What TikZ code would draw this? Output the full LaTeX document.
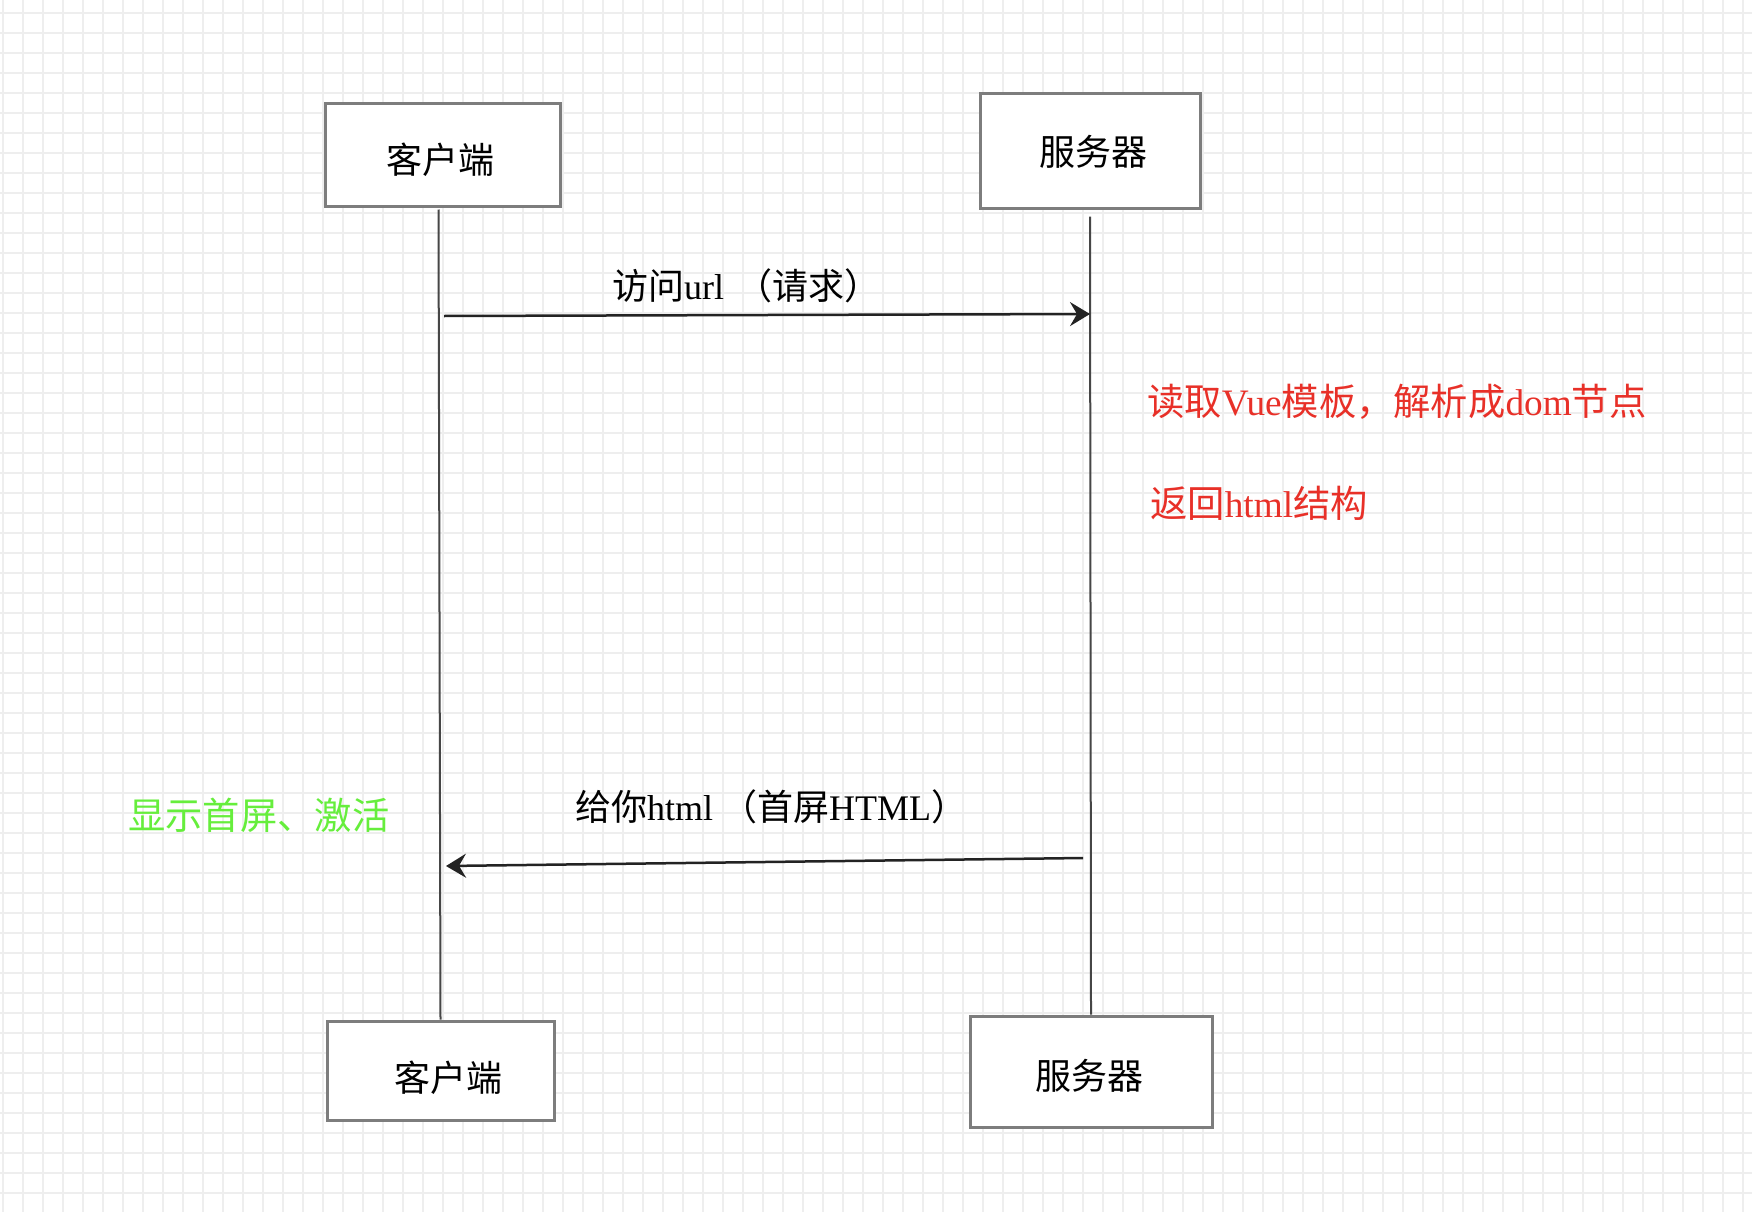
\documentclass[tikz,border=0pt]{standalone}
\usepackage{fontspec}
\setmainfont{Liberation Serif}
\newfontfamily\cjk{Noto Sans CJK SC}
\usetikzlibrary{arrows.meta}
\definecolor{gridc}{RGB}{238,238,238}
\definecolor{boxc}{RGB}{125,125,125}
\definecolor{lifec}{RGB}{70,70,70}
\definecolor{arrc}{RGB}{35,35,35}
\definecolor{redt}{RGB}{232,48,40}
\definecolor{greent}{RGB}{102,238,60}
\tikzset{
  actor/.style={draw=boxc, line width=3pt, fill=white, inner sep=0pt},
  actortext/.style={inner sep=0pt, font=\fontsize{36}{40}\selectfont\cjk},
  lifeline/.style={draw=lifec, line width=2pt},
  msg/.style={draw=arrc, line width=2.5pt, -{Stealth[length=20pt,width=24pt,inset=7pt]}},
  msglabel/.style={anchor=west, inner sep=0pt, font=\fontsize{36}{40}\selectfont},
  note/.style={anchor=west, inner sep=0pt, font=\fontsize{37.3}{42}\selectfont},
}
\begin{document}
\begin{tikzpicture}[x=1pt,y=-1pt]
\useasboundingbox (0,0) rectangle (1752,1212);
\fill[white] (0,0) rectangle (1752,1212);
\foreach \gx in {3,23,...,1752} \draw[gridc, line width=1.5pt] (\gx,0) -- (\gx,1212);
\foreach \gy in {13,33,...,1212} \draw[gridc, line width=1.5pt] (0,\gy) -- (1752,\gy);

% actors
\node[actor, minimum width=235pt, minimum height=102pt] (c1) at (442.5,155) {};
\node[actortext] (c1t) at (440,160) {客户端};
\node[actor, minimum width=220pt, minimum height=114pt] (s1) at (1090,151) {};
\node[actortext] (s1t) at (1093,152) {服务器};
\node[actor, minimum width=227pt, minimum height=99pt] (c2) at (440.5,1070.5) {};
\node[actortext] (c2t) at (448,1078) {客户端};
\node[actor, minimum width=242pt, minimum height=111pt] (s2) at (1091,1071.5) {};
\node[actortext] (s2t) at (1089,1076) {服务器};

% lifelines
\draw[lifeline] ([xshift=-4pt,yshift=-2pt]c1.south) -- (c2.north);
\draw[lifeline] ([yshift=-7pt]s1.south) -- (s2.north);

% messages
\coordinate (m1s) at (444,316);
\coordinate (m1e) at (1090,314);
\coordinate (m2s) at (1083,858);
\coordinate (m2e) at (446,866);
\draw[msg] (m1s) -- (m1e);
\draw[msg] (m2s) -- (m2e);

\node[msglabel] (l1) at (612,286) {{\cjk 访问}url\hspace{12pt}{\cjk （请求）}};
\node[msglabel] (l2) at (575,807) {{\cjk 给你}html\hspace{8pt}{\cjk （首屏}HTML{\cjk ）}};

% notes
\node[note, text=redt] (n1) at (1147,402) {{\cjk 读取}Vue{\cjk 模板，解析成}dom{\cjk 节点}};
\node[note, text=redt] (n2) at (1150,503) {{\cjk 返回}html{\cjk 结构}};
\node[note, text=greent] (n3) at (128,815) {{\cjk 显示首屏、激活}};
\end{tikzpicture}
\end{document}
